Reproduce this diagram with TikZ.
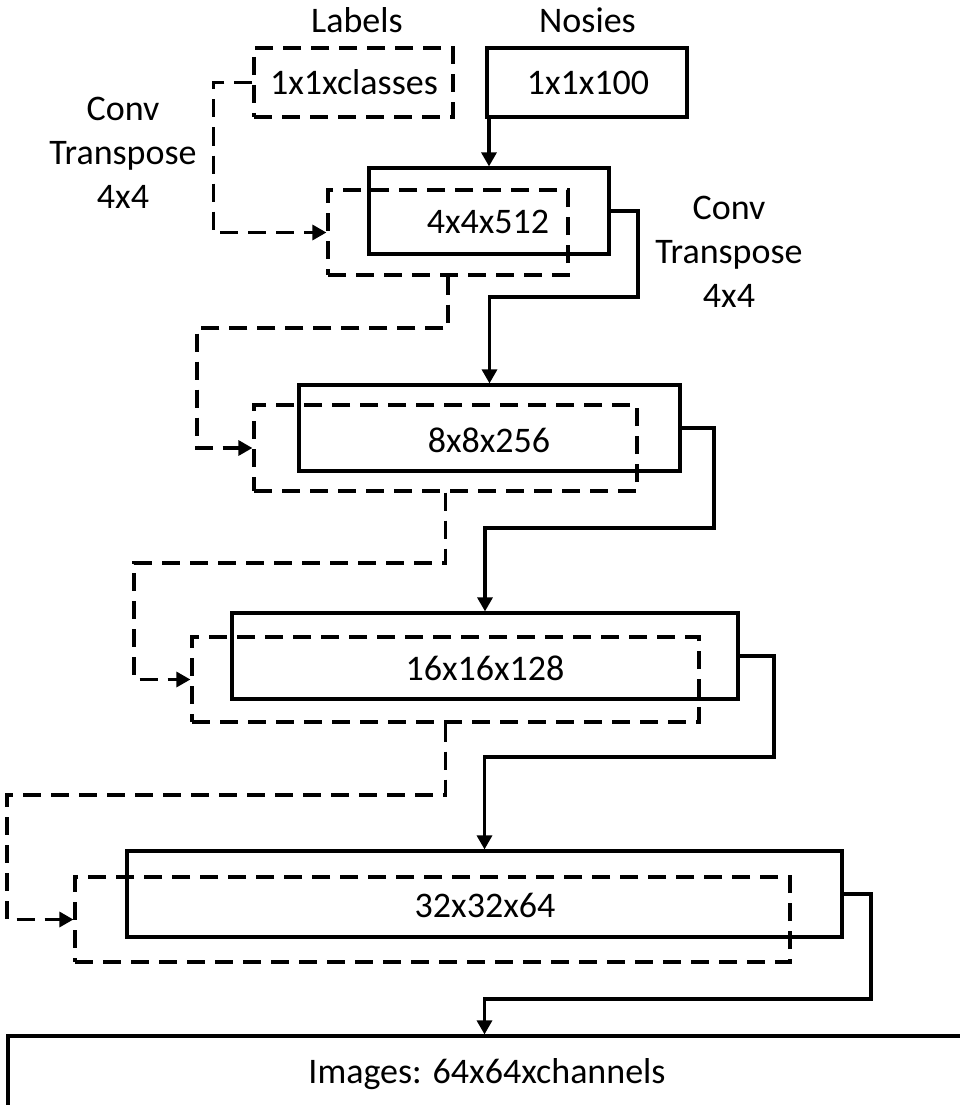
\documentclass[tikz,border=0pt]{standalone}
\usepackage{fontspec}
\setmainfont{Carlito}
\usetikzlibrary{arrows.meta}
\begin{document}
\begin{tikzpicture}[x=1pt,y=-1pt,
  txt/.style={font=\fontsize{36}{44}\selectfont, inner sep=0pt},
  solidbox/.style={draw, line width=3.2pt, rectangle, inner sep=0pt},
  dashbox/.style={draw, line width=3.2pt, rectangle, inner sep=0pt, dash pattern=on 18pt off 10pt},
  conn/.style={line width=3.2pt, -{Triangle[length=14pt,width=15pt]}},
  dconn/.style={line width=3.2pt, dash pattern=on 18pt off 10pt, -{Triangle[length=14pt,width=15pt]}}
]
\useasboundingbox (0,0) rectangle (960,1105);
% input boxes
\node[dashbox, minimum width=199pt, minimum height=69pt] (lab) at (353.5,82.5) {};
\node[solidbox, minimum width=200pt, minimum height=69pt] (noise) at (587,82.5) {};
\node[txt, anchor=base] (labt) at (357,33) {Labels};
\node[txt, anchor=base] (noiset) at (587.5,33) {Nosies};
\node[txt, anchor=base] (labin) at (354,95) {1x1xclasses};
\node[txt, anchor=base] (noisein) at (588,95) {1x1x100};
% layer boxes
\node[solidbox, minimum width=240pt, minimum height=86pt] (b1) at (489,211) {};
\node[dashbox, minimum width=240pt, minimum height=85pt] (d1) at (448,232.5) {};
\node[txt, anchor=base] (t1) at (488,233) {4x4x512};
\node[solidbox, minimum width=381pt, minimum height=86pt] (b2) at (489.5,428) {};
\node[dashbox, minimum width=383pt, minimum height=86pt] (d2) at (445.5,448) {};
\node[txt, anchor=base] (t2) at (489,452) {8x8x256};
\node[solidbox, minimum width=506pt, minimum height=86pt] (b3) at (485,656) {};
\node[dashbox, minimum width=507pt, minimum height=85pt] (d3) at (445.5,679.5) {};
\node[txt, anchor=base] (t3) at (485,680) {16x16x128};
\node[solidbox, minimum width=715pt, minimum height=86pt] (b4) at (484.5,894) {};
\node[dashbox, minimum width=715pt, minimum height=85pt] (d4) at (432.5,919.5) {};
\node[txt, anchor=base] (t4) at (485,917) {32x32x64};
\node[solidbox, minimum width=992pt, minimum height=104pt] (img) at (504,1088) {};
\node[txt, anchor=base] (t5) at (487,1083) {Images: 64x64xchannels};
% conv labels (base anchor = baseline of the last line)
\node[txt, align=center, anchor=base] (cl) at (123,208) {Conv\\Transpose\\4x4};
\node[txt, align=center, anchor=base] (cr) at (729,307) {Conv\\Transpose\\4x4};
% solid connectors
\draw[conn] (b1.north |- noise.south) -- (b1.north);
\draw[conn] (b1.east) -| (638,297) -| (b2.north);
\draw[conn] (b2.east) -| (714,528) -| (b3.north);
\draw[conn] (b3.east) -| (774,757) -| (b4.north);
\draw[conn] (b4.east) -| (871,999) -| (b4.north |- img.north);
% dashed connectors
\draw[dconn] (lab.west) -- ++(-39,0) |- (d1.west);
\draw[dconn] (d1.south) |- (197,328) |- (d2.west);
\draw[dconn] (d2.south) |- (134,563) |- (d3.west);
\draw[dconn] (d3.south) |- (7,795) |- (d4.west);
\end{tikzpicture}
\end{document}
